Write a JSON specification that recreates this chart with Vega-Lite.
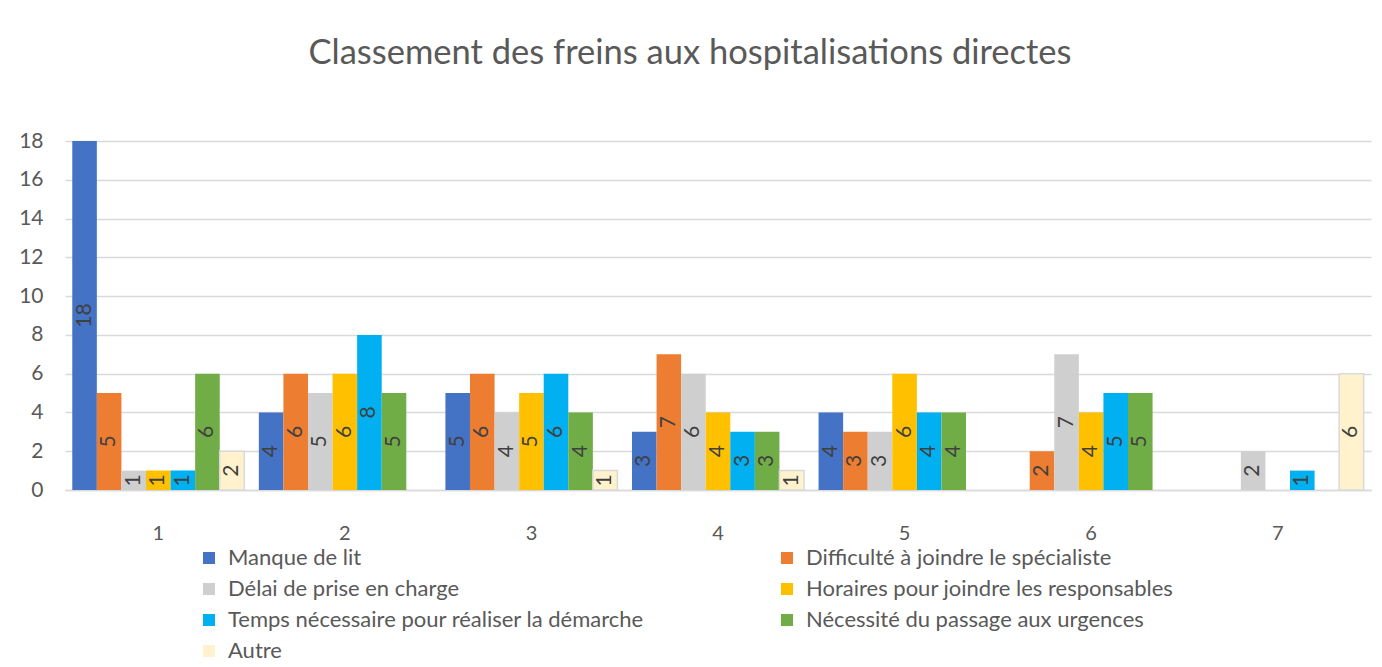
{
  "$schema": "https://vega.github.io/schema/vega-lite/v6.json",
  "width": 1306,
  "height": 349,
  "autosize": {"type": "none"},
  "padding": {"left": 65, "top": 141, "right": 11, "bottom": 177},
  "background": "white",
  "config": {
    "font": "Lato",
    "view": {"stroke": null},
    "axis": {"labelColor": "#595959", "labelFont": "Lato"}
  },
  "title": {
    "text": "Classement des freins aux hospitalisations directes",
    "fontSize": 34.5,
    "fontWeight": "normal",
    "color": "#595959",
    "anchor": "middle",
    "offset": 59,
    "dx": -28
  },
  "data": {
    "values": [
      {"rang": "1", "frein": "Manque de lit", "n": 18},
      {"rang": "1", "frein": "Difficulté à joindre le spécialiste", "n": 5},
      {"rang": "1", "frein": "Délai de prise en charge", "n": 1},
      {"rang": "1", "frein": "Horaires pour joindre les responsables", "n": 1},
      {"rang": "1", "frein": "Temps nécessaire pour réaliser la démarche", "n": 1},
      {"rang": "1", "frein": "Nécessité du passage aux urgences", "n": 6},
      {"rang": "1", "frein": "Autre", "n": 2},
      {"rang": "2", "frein": "Manque de lit", "n": 4},
      {"rang": "2", "frein": "Difficulté à joindre le spécialiste", "n": 6},
      {"rang": "2", "frein": "Délai de prise en charge", "n": 5},
      {"rang": "2", "frein": "Horaires pour joindre les responsables", "n": 6},
      {"rang": "2", "frein": "Temps nécessaire pour réaliser la démarche", "n": 8},
      {"rang": "2", "frein": "Nécessité du passage aux urgences", "n": 5},
      {"rang": "3", "frein": "Manque de lit", "n": 5},
      {"rang": "3", "frein": "Difficulté à joindre le spécialiste", "n": 6},
      {"rang": "3", "frein": "Délai de prise en charge", "n": 4},
      {"rang": "3", "frein": "Horaires pour joindre les responsables", "n": 5},
      {"rang": "3", "frein": "Temps nécessaire pour réaliser la démarche", "n": 6},
      {"rang": "3", "frein": "Nécessité du passage aux urgences", "n": 4},
      {"rang": "3", "frein": "Autre", "n": 1},
      {"rang": "4", "frein": "Manque de lit", "n": 3},
      {"rang": "4", "frein": "Difficulté à joindre le spécialiste", "n": 7},
      {"rang": "4", "frein": "Délai de prise en charge", "n": 6},
      {"rang": "4", "frein": "Horaires pour joindre les responsables", "n": 4},
      {"rang": "4", "frein": "Temps nécessaire pour réaliser la démarche", "n": 3},
      {"rang": "4", "frein": "Nécessité du passage aux urgences", "n": 3},
      {"rang": "4", "frein": "Autre", "n": 1},
      {"rang": "5", "frein": "Manque de lit", "n": 4},
      {"rang": "5", "frein": "Difficulté à joindre le spécialiste", "n": 3},
      {"rang": "5", "frein": "Délai de prise en charge", "n": 3},
      {"rang": "5", "frein": "Horaires pour joindre les responsables", "n": 6},
      {"rang": "5", "frein": "Temps nécessaire pour réaliser la démarche", "n": 4},
      {"rang": "5", "frein": "Nécessité du passage aux urgences", "n": 4},
      {"rang": "6", "frein": "Difficulté à joindre le spécialiste", "n": 2},
      {"rang": "6", "frein": "Délai de prise en charge", "n": 7},
      {"rang": "6", "frein": "Horaires pour joindre les responsables", "n": 4},
      {"rang": "6", "frein": "Temps nécessaire pour réaliser la démarche", "n": 5},
      {"rang": "6", "frein": "Nécessité du passage aux urgences", "n": 5},
      {"rang": "7", "frein": "Délai de prise en charge", "n": 2},
      {"rang": "7", "frein": "Temps nécessaire pour réaliser la démarche", "n": 1},
      {"rang": "7", "frein": "Autre", "n": 6}
    ]
  },
  "encoding": {
    "x": {
      "field": "rang",
      "type": "nominal",
      "title": null,
      "scale": {"paddingInner": 0.078, "paddingOuter": 0.039},
      "axis": {
        "labelAngle": 0,
        "labelFontSize": 20,
        "labelPadding": 33,
        "ticks": false,
        "domainColor": "#D9D9D9",
        "domainWidth": 1.5
      }
    },
    "xOffset": {
      "field": "frein",
      "type": "nominal",
      "scale": {
        "domain": ["Manque de lit", "Difficulté à joindre le spécialiste", "Délai de prise en charge", "Horaires pour joindre les responsables", "Temps nécessaire pour réaliser la démarche", "Nécessité du passage aux urgences", "Autre"],
        "paddingInner": 0,
        "paddingOuter": 0
      }
    }
  },
  "layer": [
    {
      "mark": {"type": "bar", "strokeWidth": 1.5},
      "encoding": {
        "y": {
          "field": "n",
          "type": "quantitative",
          "title": null,
          "scale": {"domain": [0, 18], "nice": false},
          "axis": {
            "values": [0, 2, 4, 6, 8, 10, 12, 14, 16, 18],
            "labelOverlap": false,
            "labelFontSize": 21,
            "labelPadding": 22,
            "ticks": false,
            "domain": false,
            "gridColor": "#D9D9D9",
            "gridWidth": 1.5
          }
        },
        "color": {
          "field": "frein",
          "type": "nominal",
          "title": null,
          "scale": {
            "domain": ["Manque de lit", "Difficulté à joindre le spécialiste", "Délai de prise en charge", "Horaires pour joindre les responsables", "Temps nécessaire pour réaliser la démarche", "Nécessité du passage aux urgences", "Autre"],
            "range": ["#4472C4", "#ED7D31", "#CFCFCF", "#FFC000", "#00B0F0", "#70AD47", "#FFF2CC"]
          },
          "legend": {
            "orient": "none",
            "legendX": 133,
            "legendY": 406,
            "direction": "horizontal",
            "columns": 2,
            "columnPadding": 131,
            "rowPadding": 9,
            "symbolType": "square",
            "symbolSize": 144,
            "symbolStrokeWidth": 0,
            "labelFontSize": 22,
            "labelColor": "#595959",
            "labelLimit": 700,
            "labelOffset": 8,
            "encode": {
              "symbols": {
                "update": {
                  "stroke": {"signal": "datum.value === 'Autre' ? '#D0D0D0' : 'transparent'"},
                  "strokeWidth": {"value": 1.5}
                }
              }
            }
          }
        },
        "stroke": {
          "condition": {"test": "datum.frein === 'Autre'", "value": "#D9D9D9"},
          "value": null
        }
      }
    },
    {
      "mark": {"type": "text", "angle": 270, "fontSize": 21, "color": "#404040", "baseline": "middle", "align": "center"},
      "encoding": {
        "y": {
          "field": "n",
          "type": "quantitative",
          "scale": {"domain": [0, 36], "nice": false},
          "axis": null
        },
        "text": {"field": "n", "type": "quantitative"}
      }
    }
  ],
  "resolve": {"scale": {"y": "independent"}}
}
